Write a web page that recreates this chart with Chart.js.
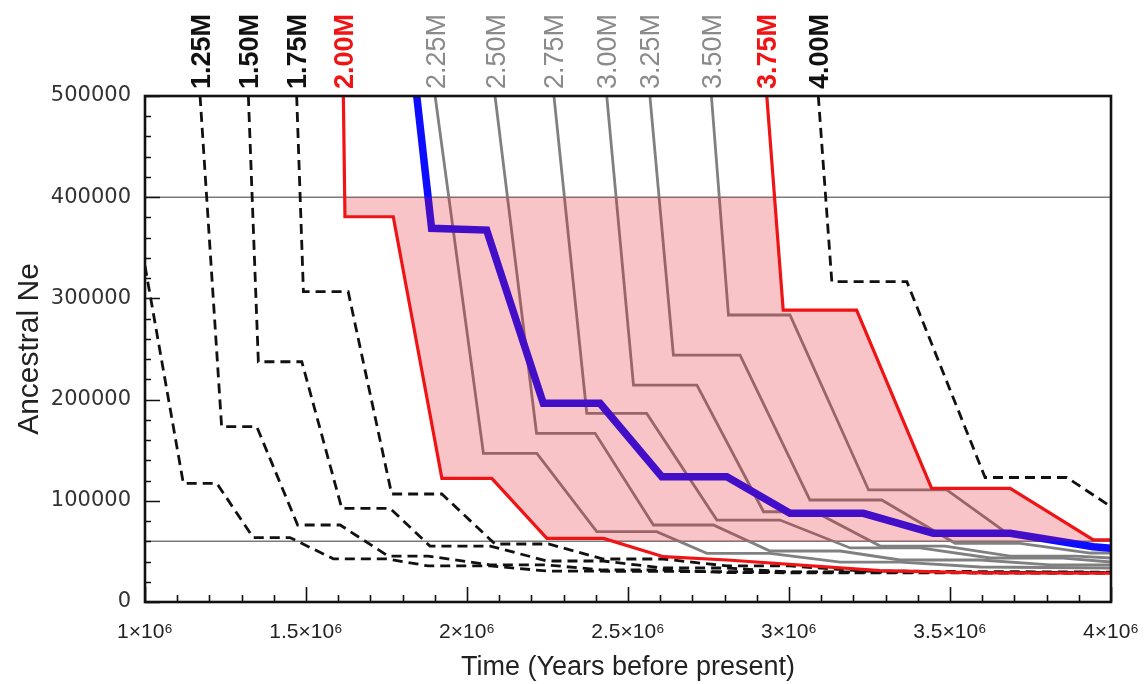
<!DOCTYPE html>
<html>
<head>
<meta charset="utf-8">
<script src="https://cdn.jsdelivr.net/npm/chart.js@4.4.1/dist/chart.umd.min.js"></script>
<style>
  html, body { margin: 0; padding: 0; background: #fff; }
  #wrap { width: 1146px; height: 684px; }
</style>
</head>
<body>
<div id="wrap"><canvas id="neChart" width="1146" height="684"></canvas></div>
<script>
// [years before present, ancestral Ne] for each split-time run
const s100 = [[1.000e6, 332000], [1.119e6, 117300], [1.223e6, 117300], [1.336e6, 63700], [1.450e6, 63700],
  [1.585e6, 42700], [1.751e6, 42700], [1.880e6, 35600], [2.072e6, 35600], [2.249e6, 30600], [4.0e6, 28700]];
const s125 = [[1.171e6, 500000], [1.238e6, 173200], [1.347e6, 173200], [1.474e6, 76100], [1.606e6, 76100],
  [1.755e6, 45400], [1.879e6, 45400], [2.072e6, 36600], [2.249e6, 36600], [2.423e6, 31600], [2.609e6, 31600],
  [2.808e6, 29000], [4.0e6, 28500]];
const s150 = [[1.321e6, 500000], [1.352e6, 237400], [1.487e6, 237400], [1.611e6, 92600], [1.761e6, 92600],
  [1.885e6, 55300], [2.072e6, 55300], [2.249e6, 40500], [2.423e6, 40500], [2.609e6, 33600], [2.808e6, 33600],
  [3.003e6, 29600], [4.0e6, 29000]];
const s175 = [[1.471e6, 500000], [1.492e6, 306600], [1.631e6, 306600], [1.766e6, 106700], [1.922e6, 106700],
  [2.087e6, 57300], [2.253e6, 57300], [2.423e6, 42500], [2.609e6, 42500], [2.808e6, 35600], [3.003e6, 35600],
  [3.230e6, 30600], [4.0e6, 29500]];
const s200 = [[1.616e6, 500000], [1.621e6, 380700], [1.771e6, 380700], [1.922e6, 122200], [2.077e6, 122200],
  [2.248e6, 62900], [2.424e6, 62900], [2.610e6, 44800], [2.808e6, 41500], [3.283e6, 31000], [3.600e6, 28700],
  [4.0e6, 28400]];
const s225 = [[1.901e6, 500000], [2.051e6, 146900], [2.217e6, 146900], [2.403e6, 69500], [2.589e6, 69500],
  [2.745e6, 48100], [2.941e6, 48100], [3.159e6, 39500], [3.345e6, 39500], [3.594e6, 34600], [4.0e6, 33600]];
const s250 = [[2.087e6, 500000], [2.216e6, 166700], [2.398e6, 166700], [2.579e6, 76100], [2.765e6, 76100],
  [2.941e6, 50400], [3.159e6, 50400], [3.345e6, 41500], [3.594e6, 41500], [3.811e6, 36600], [4.0e6, 36600]];
const s275 = [[2.270e6, 500000], [2.372e6, 186400], [2.558e6, 186400], [2.776e6, 81000], [2.972e6, 81000],
  [3.190e6, 53400], [3.407e6, 53400], [3.625e6, 43500], [3.842e6, 43500], [4.0e6, 39500]];
const s300 = [[2.434e6, 500000], [2.517e6, 214400], [2.714e6, 214400], [2.921e6, 89200], [3.080e6, 89200],
  [3.283e6, 55300], [3.485e6, 55300], [3.687e6, 45400], [3.889e6, 45400], [4.0e6, 43500]];
const s325 = [[2.568e6, 500000], [2.641e6, 244000], [2.848e6, 244000], [3.065e6, 100800], [3.288e6, 100800],
  [3.516e6, 58000], [3.718e6, 58000], [3.935e6, 48400], [4.0e6, 48400]];
const s350 = [[2.759e6, 500000], [2.812e6, 283600], [3.003e6, 283600], [3.247e6, 110700], [3.490e6, 110700],
  [3.681e6, 67000], [4.0e6, 51000]];
const s375 = [[2.931e6, 500000], [2.982e6, 288500], [3.210e6, 288500], [3.443e6, 112300], [3.687e6, 112300],
  [3.945e6, 61300], [4.0e6, 61300]];
const s400 = [[3.091e6, 500000], [3.133e6, 316500], [3.366e6, 316500], [3.609e6, 123000], [3.863e6, 123000],
  [4.0e6, 94200]];
const best = [[1.844e6, 500000], [1.890e6, 369200], [2.061e6, 367500], [2.237e6, 196300], [2.413e6, 196300],
  [2.605e6, 123800], [2.807e6, 123800], [3.003e6, 87600], [3.231e6, 87600], [3.448e6, 67900], [3.687e6, 67900],
  [3.945e6, 54600], [4.0e6, 53000]];

const refLines = [400000, 60000];

const topLabels = ['1.25M', '1.50M', '1.75M', '2.00M', '2.25M', '2.50M', '2.75M', '3.00M', '3.25M', '3.50M', '3.75M', '4.00M'];
const labelSeries = [s125, s150, s175, s200, s225, s250, s275, s300, s325, s350, s375, s400];
const labelKinds = ['dash', 'dash', 'dash', 'red', 'gray', 'gray', 'gray', 'gray', 'gray', 'gray', 'red', 'dash'];

const xTicks = [1e6, 1.5e6, 2e6, 2.5e6, 3e6, 3.5e6, 4e6];
const xTickLabels = ['1×10⁶', '1.5×10⁶', '2×10⁶', '2.5×10⁶', '3×10⁶', '3.5×10⁶', '4×10⁶'];
const yTicks = [0, 100000, 200000, 300000, 400000, 500000];

const RED = '#f01414';
const GRAY = '#808080';
const BLACK = '#111';
const BLUE = '#0d0dff';
const kindColor = { dash: BLACK, red: RED, gray: '#8a8a8a' };

function line(pts, color, width, dash, order) {
  return {
    data: pts.map(p => ({ x: p[0], y: p[1] })),
    borderColor: color,
    borderWidth: width,
    borderDash: dash || [],
    pointRadius: 0,
    fill: false,
    tension: 0,
    order: order,
  };
}

const DASH = [10, 6];
const datasets = [
  line(best, BLUE, 7.5, null, 0),
  line(s200, RED, 3.2, null, 1),
  line(s375, RED, 3.2, null, 1),
  line(s100, BLACK, 2.8, DASH, 2),
  line(s125, BLACK, 2.8, DASH, 2),
  line(s150, BLACK, 2.8, DASH, 2),
  line(s175, BLACK, 2.8, DASH, 2),
  line(s400, BLACK, 2.8, DASH, 2),
  line(s225, GRAY, 2.8, null, 3),
  line(s250, GRAY, 2.8, null, 3),
  line(s275, GRAY, 2.8, null, 3),
  line(s300, GRAY, 2.8, null, 3),
  line(s325, GRAY, 2.8, null, 3),
  line(s350, GRAY, 2.8, null, 3),
];
refLines.forEach(v => {
  datasets.push(line([[1e6, v], [4e6, v]], '#7a7a7a', 1.4, null, 4));
});

// pink band between the two red runs, kept inside the 60000..400000 range
const bandPlugin = {
  id: 'band',
  afterDatasetsDraw(chart) {
    const { ctx, chartArea: a, scales: { x, y } } = chart;
    const top = y.getPixelForValue(refLines[0]);
    const bottom = y.getPixelForValue(refLines[1]);
    ctx.save();
    ctx.beginPath();
    ctx.rect(a.left, top, a.right - a.left, bottom - top);
    ctx.clip();
    ctx.beginPath();
    s200.forEach((p, i) => {
      const px = x.getPixelForValue(p[0]), py = y.getPixelForValue(p[1]);
      if (i === 0) ctx.moveTo(px, py); else ctx.lineTo(px, py);
    });
    for (let i = s375.length - 1; i >= 0; i--) {
      ctx.lineTo(x.getPixelForValue(s375[i][0]), y.getPixelForValue(s375[i][1]));
    }
    ctx.closePath();
    ctx.fillStyle = 'rgba(227, 19, 35, 0.25)';
    ctx.fill();
    ctx.restore();
  }
};

// box, inward ticks and the rotated run labels above the plot
const framePlugin = {
  id: 'frame',
  afterDraw(chart) {
    const { ctx, chartArea: a, scales: { x, y } } = chart;
    ctx.save();
    ctx.strokeStyle = BLACK;
    ctx.lineWidth = 1.6;
    ctx.beginPath();
    for (let v = 0; v <= 500000; v += 20000) {
      const py = Math.round(y.getPixelForValue(v)) + 0.5;
      const len = v % 100000 === 0 ? 15 : 6;
      ctx.moveTo(a.left, py);
      ctx.lineTo(a.left + len, py);
    }
    for (let v = 1e6; v <= 4e6; v += 1e5) {
      const px = Math.round(x.getPixelForValue(v)) + 0.5;
      const len = Math.round(v) % 500000 === 0 ? 15 : 7;
      ctx.moveTo(px, a.bottom);
      ctx.lineTo(px, a.bottom - len);
    }
    ctx.stroke();
    ctx.lineWidth = 2.6;
    ctx.strokeRect(a.left, a.top, a.right - a.left, a.bottom - a.top);

    topLabels.forEach((t, i) => {
      const kind = labelKinds[i];
      const px = x.getPixelForValue(labelSeries[i][0][0]);
      ctx.save();
      ctx.translate(px + 9.5, a.top - 7);
      ctx.rotate(-Math.PI / 2);
      ctx.font = (kind === 'gray' ? '' : 'bold ') + '27px "Liberation Sans", Arial, sans-serif';
      ctx.fillStyle = kindColor[kind];
      ctx.textAlign = 'left';
      ctx.textBaseline = 'alphabetic';
      ctx.fillText(t, 0, 0);
      ctx.restore();
    });
    ctx.restore();
  }
};

new Chart(document.getElementById('neChart'), {
  type: 'line',
  data: { datasets: datasets },
  options: {
    responsive: false,
    animation: false,
    devicePixelRatio: 1,
    layout: { padding: { top: 96, right: 35, bottom: 0, left: 0 } },
    plugins: { legend: { display: false }, tooltip: { enabled: false } },
    scales: {
      x: {
        type: 'linear',
        min: 1e6,
        max: 4e6,
        afterBuildTicks: axis => { axis.ticks = xTicks.map(v => ({ value: v })); },
        afterFit: s => { s.height = 82; s.paddingLeft = 0; s.paddingRight = 0; },
        grid: { display: false, drawTicks: false },
        border: { display: false },
        ticks: {
          maxRotation: 0,
          padding: 18,
          color: '#222',
          font: { family: 'Liberation Sans', size: 21 },
          callback: v => xTickLabels[xTicks.indexOf(v)],
        },
        title: {
          display: true,
          text: 'Time (Years before present)',
          color: '#222',
          font: { family: 'Liberation Sans', size: 27 },
          padding: { top: 0, bottom: 0 },
        },
      },
      y: {
        min: 0,
        max: 500000,
        afterBuildTicks: axis => { axis.ticks = yTicks.map(v => ({ value: v })); },
        afterFit: s => { s.width = 145; },
        grid: { display: false, drawTicks: false },
        border: { display: false },
        ticks: {
          padding: 14,
          color: '#333',
          font: { family: 'DejaVu Sans', size: 21 },
          callback: v => String(v),
        },
        title: {
          display: true,
          text: 'Ancestral Ne',
          color: '#222',
          font: { family: 'Liberation Sans', size: 30 },
          padding: { top: 12, bottom: 0 },
        },
      },
    },
  },
  plugins: [bandPlugin, framePlugin],
});
</script>
</body>
</html>
